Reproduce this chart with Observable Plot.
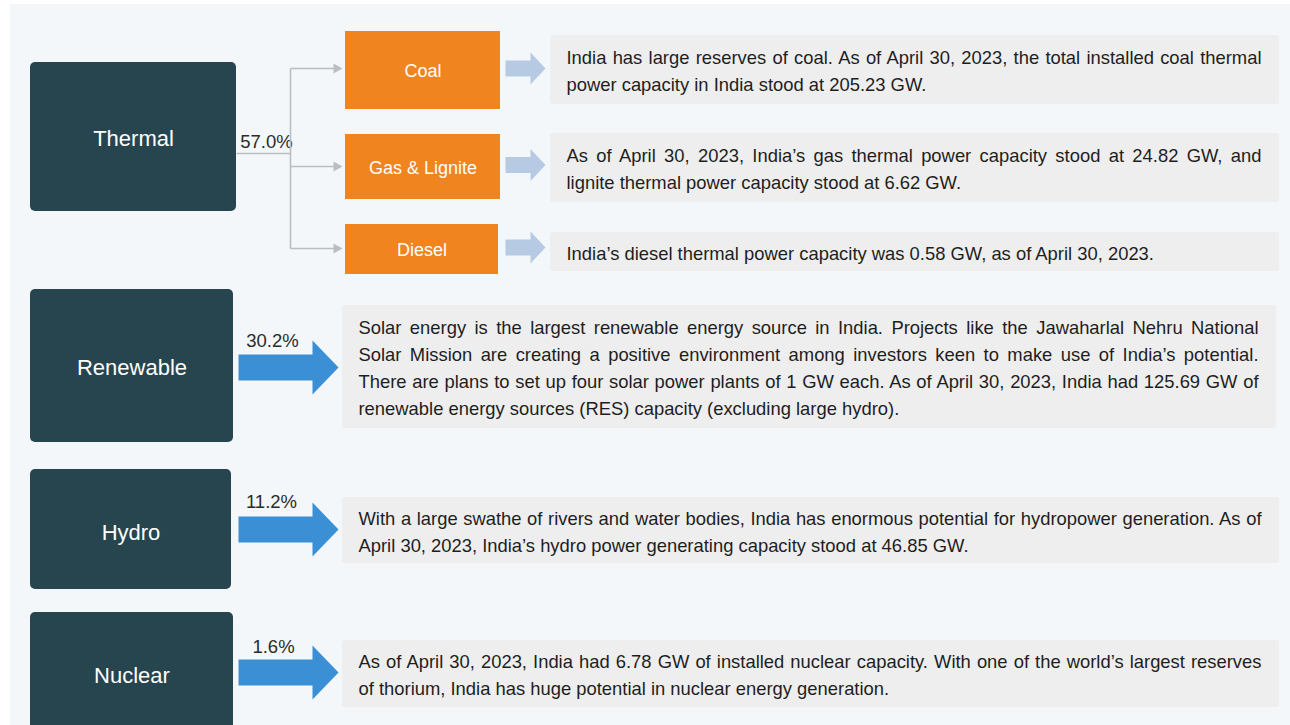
<!DOCTYPE html>
<html><head><meta charset="utf-8">
<script src="https://cdn.jsdelivr.net/npm/d3@7"></script>
<script src="https://cdn.jsdelivr.net/npm/@observablehq/plot@0.6"></script>
<style>html,body{margin:0;padding:0;background:#fff;overflow:hidden}</style>
</head><body><div id="chart"></div>
<script>
// ---------- DATA ----------
const categories = ["Thermal", "Renewable", "Hydro", "Nuclear"];
const shares = [57.0, 30.2, 11.2, 1.6];
const thermalTypes = ["Coal", "Gas & Lignite", "Diesel"];
const thermalNotes = [
  ["India has large reserves of coal. As of April 30, 2023, the total installed coal thermal",
   "power capacity in India stood at 205.23 GW."],
  ["As of April 30, 2023, India’s gas thermal power capacity stood at 24.82 GW, and",
   "lignite thermal power capacity stood at 6.62 GW."],
  ["India’s diesel thermal power capacity was 0.58 GW, as of April 30, 2023."]
];
const categoryNotes = [
  null,
  ["Solar energy is the largest renewable energy source in India. Projects like the Jawaharlal Nehru National",
   "Solar Mission are creating a positive environment among investors keen to make use of India’s potential.",
   "There are plans to set up four solar power plants of 1 GW each. As of April 30, 2023, India had 125.69 GW of",
   "renewable energy sources (RES) capacity (excluding large hydro)."],
  ["With a large swathe of rivers and water bodies, India has enormous potential for hydropower generation. As of",
   "April 30, 2023, India’s hydro power generating capacity stood at 46.85 GW."],
  ["As of April 30, 2023, India had 6.78 GW of installed nuclear capacity. With one of the world’s largest reserves",
   "of thorium, India has huge potential in nuclear energy generation."]
];

// ---------- LAYOUT (pixel geometry, kept apart from the data) ----------
const W = 1290, H = 725;
const catLayout = [
  {x1: 30, x2: 236, y1: 62,  y2: 211, labelY: 138, pctX: 266, pctY: 142},
  {x1: 30, x2: 233, y1: 289, y2: 442, labelY: 367, pctX: 272, pctY: 341, arrowY: 367, note: {x1: 342, x2: 1276, y1: 305, y2: 428}},
  {x1: 30, x2: 231, y1: 469, y2: 589, labelY: 532, pctX: 271, pctY: 502, arrowY: 529, note: {x1: 342, x2: 1279, y1: 497, y2: 563}},
  {x1: 30, x2: 233, y1: 612, y2: 740, labelY: 675, pctX: 273, pctY: 647, arrowY: 672, note: {x1: 342, x2: 1279, y1: 640, y2: 707}}
];
const subLayout = [
  {x1: 345, x2: 500, y1: 31,  y2: 109, branchY: 68,  note: {x1: 550, x2: 1279, y1: 35,  y2: 104}},
  {x1: 345, x2: 500, y1: 134, y2: 199, branchY: 166, note: {x1: 550, x2: 1279, y1: 133, y2: 202}},
  {x1: 345, x2: 498, y1: 224, y2: 274, branchY: 248, note: {x1: 550, x2: 1279, y1: 232, y2: 271}}
];
const trunk = {x0: 236, x: 290, y: 153, tip: 342};
const lineStep = 27, notePad = 16;
const font = "'Liberation Sans', Arial, Helvetica, sans-serif";

// ---------- BUILD ROWS ----------
const catRows = categories.map((c, i) => ({label: c, share: shares[i], ...catLayout[i]}));
const subRows = thermalTypes.map((t, i) => ({label: t, ...subLayout[i]}));

const noteBoxes = [];
const noteLines = [];
function addNote(lines, box) {
  noteBoxes.push(box);
  const cy = (box.y1 + box.y2) / 2 + 2;
  lines.forEach((txt, j) => {
    noteLines.push({
      text: txt,
      x: box.x1 + notePad,
      y: cy + (j - (lines.length - 1) / 2) * lineStep,
      justify: lines.length > 1 && j < lines.length - 1,
      width: box.x2 - box.x1 - 2 * notePad - 2
    });
  });
}
thermalNotes.forEach((lines, i) => addNote(lines, subLayout[i].note));
categoryNotes.forEach((lines, i) => { if (lines) addNote(lines, catLayout[i].note); });

// block arrows (polygons)
function blockArrow(id, x0, x1, headX, cy, shaftH, headH) {
  return [
    [x0, cy - shaftH], [headX, cy - shaftH], [headX, cy - headH], [x1, cy],
    [headX, cy + headH], [headX, cy + shaftH], [x0, cy + shaftH]
  ].map(([x, y]) => ({id, x, y}));
}
const bigArrows = catRows.filter(d => d.arrowY != null)
  .flatMap((d, i) => blockArrow("b" + i, 238, 338, 312, d.arrowY, 13, 27));
const smallArrows = subRows.flatMap((d, i) =>
  blockArrow("s" + i, 505, 545, 530, (d.y1 + d.y2) / 2 - 2, 8, 16));

// connector
const connector = [
  {x1: trunk.x0, y1: trunk.y, x2: trunk.x, y2: trunk.y},
  {x1: trunk.x, y1: subRows[0].branchY, x2: trunk.x, y2: subRows[subRows.length - 1].branchY},
  ...subRows.map(d => ({x1: trunk.x, y1: d.branchY, x2: trunk.tip - 6, y2: d.branchY}))
];
const connHeads = subRows.flatMap((d, i) => [
  {id: "h" + i, x: trunk.tip - 9, y: d.branchY - 5},
  {id: "h" + i, x: trunk.tip, y: d.branchY},
  {id: "h" + i, x: trunk.tip - 9, y: d.branchY + 5}
]);

// ---------- PLOT ----------
const svg = Plot.plot({
  width: W, height: H, margin: 0,
  x: {domain: [0, W], range: [0, W], axis: null},
  y: {domain: [0, H], range: [0, H], axis: null},
  style: {background: "#ffffff", fontFamily: font},
  marks: [
    Plot.rect([{}], {x1: 10, x2: W, y1: 4, y2: H, fill: "#f4f7f9"}),
    // category boxes
    Plot.rect(catRows, {x1: "x1", x2: "x2", y1: "y1", y2: "y2", fill: "#26454f", rx: 5}),
    Plot.text(catRows, {x: d => (d.x1 + d.x2) / 2, y: "labelY", text: "label", fill: "white",
      fontSize: 22, fontFamily: font}),
    Plot.text(catRows, {x: "pctX", y: "pctY", text: d => d.share.toFixed(1) + "%", fill: "#2b2b2b",
      fontSize: 18.5, fontFamily: font}),
    // thermal connector
    Plot.link(connector, {x1: "x1", y1: "y1", x2: "x2", y2: "y2", stroke: "#b9bec3", strokeWidth: 1.6}),
    Plot.line(connHeads, {x: "x", y: "y", z: "id", fill: "#b9bec3", stroke: "none"}),
    // sub-type boxes
    Plot.rect(subRows, {x1: "x1", x2: "x2", y1: "y1", y2: "y2", fill: "#f0841f"}),
    Plot.text(subRows, {x: d => (d.x1 + d.x2) / 2, y: d => (d.y1 + d.y2) / 2 + 1, text: "label",
      fill: "white", fontSize: 18, fontFamily: font}),
    // arrows
    Plot.line(smallArrows, {x: "x", y: "y", z: "id", fill: "#b6cae3", stroke: "none"}),
    Plot.line(bigArrows, {x: "x", y: "y", z: "id", fill: "#3b8fd5", stroke: "none"}),
    // note boxes and text
    Plot.rect(noteBoxes, {x1: "x1", x2: "x2", y1: "y1", y2: "y2", fill: "#eeeeee", rx: 3}),
    Plot.text(noteLines, {x: "x", y: "y", text: "text", textAnchor: "start", fill: "#1e1e1e",
      fontSize: 18.4, fontFamily: font})
  ]
});
document.getElementById("chart").append(svg);

// justify multi-line paragraphs via word spacing
const justifyMap = new Map(noteLines.filter(d => d.justify).map(d => [d.text, d.width]));
d3.select(svg).selectAll("text").each(function () {
  const t = this.textContent;
  if (!justifyMap.has(t)) return;
  const target = justifyMap.get(t);
  const natural = this.getComputedTextLength();
  const spaces = (t.match(/ /g) || []).length;
  if (spaces) this.style.wordSpacing = ((target - natural) / spaces) + "px";
});
</script>
</body></html>
